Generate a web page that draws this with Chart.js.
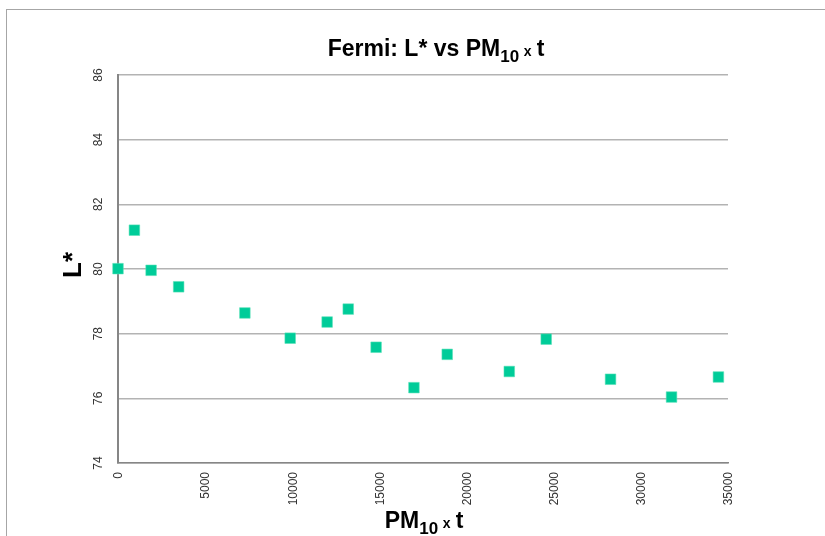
<!DOCTYPE html>
<html>
<head>
<meta charset="utf-8">
<script src="https://cdn.jsdelivr.net/npm/chart.js@4"></script>
<style>
  body { margin: 0; background: #fff; }
  #wrap { width: 825px; height: 536px; }
</style>
</head>
<body>
<div id="wrap"><canvas id="myChart" width="825" height="536"></canvas></div>
<script>
// PM10 x t (x) and L* (y)
const pmTime = [0, 940, 1900, 3480, 7280, 9880, 12000, 13210, 14810, 16980, 18890, 22450, 24570, 28260, 31760, 34450];
const lStar = [80.01, 81.2, 79.96, 79.45, 78.64, 77.86, 78.36, 78.76, 77.58, 76.33, 77.36, 76.83, 77.83, 76.59, 76.04, 76.66];

const xTicks = { min: 0, max: 35000, step: 5000 };
const yTicks = { min: 74, max: 86, step: 2 };

const points = pmTime.map((x, i) => ({ x: x, y: lStar[i] }));

const FONT = '"Liberation Sans", Arial, sans-serif';

// draws text made of pieces with different sizes (for the subscript)
function drawParts(ctx, parts, x, y, rot) {
  ctx.save();
  ctx.translate(x, y);
  ctx.rotate(rot || 0);
  ctx.textBaseline = 'alphabetic';
  ctx.textAlign = 'left';
  let w = 0;
  parts.forEach(p => { ctx.font = p.f; w += ctx.measureText(p.t).width; });
  let cx = -w / 2;
  parts.forEach(p => {
    ctx.font = p.f;
    ctx.fillText(p.t, cx, p.dy || 0);
    cx += ctx.measureText(p.t).width;
  });
  ctx.restore();
}

function pmParts(before) {
  return [
    { t: before + 'PM', f: 'bold 23px ' + FONT },
    { t: '10', f: 'bold 17px ' + FONT, dy: 6 },
    { t: ' ', f: 'bold 17px ' + FONT },
    { t: 'x', f: 'bold 14px ' + FONT },
    { t: ' ', f: 'bold 18px ' + FONT },
    { t: 't', f: 'bold 23px ' + FONT }
  ];
}

const textPlugin = {
  id: 'textPlugin',
  afterDraw(chart) {
    const ctx = chart.ctx;
    const xs = chart.scales.x;
    const ys = chart.scales.y;
    ctx.save();

    // outer frame
    ctx.strokeStyle = '#a6a6a6';
    ctx.lineWidth = 1;
    ctx.strokeRect(6.5, 9.5, 900, 600);

    ctx.fillStyle = '#333';
    ctx.font = '12px ' + FONT;

    // y tick labels, turned
    ys.ticks.forEach(t => {
      const py = ys.getPixelForValue(t.value);
      ctx.save();
      ctx.translate(101.5, py);
      ctx.rotate(-Math.PI / 2);
      ctx.textAlign = 'center';
      ctx.textBaseline = 'alphabetic';
      ctx.fillText(String(t.value), 0, 0);
      ctx.restore();
    });

    // x tick labels, turned
    xs.ticks.forEach(t => {
      const px = xs.getPixelForValue(t.value);
      ctx.save();
      ctx.translate(px + 4.3, 472);
      ctx.rotate(-Math.PI / 2);
      ctx.textAlign = 'right';
      ctx.textBaseline = 'alphabetic';
      ctx.fillText(String(t.value), 0, 0);
      ctx.restore();
    });

    ctx.fillStyle = '#000';
    drawParts(ctx, pmParts('Fermi: L* vs '), 436, 56);
    drawParts(ctx, pmParts(''), 424, 528);
    drawParts(ctx, [{ t: 'L*', f: 'bold 26px ' + FONT }], 80.5, 265, -Math.PI / 2);

    ctx.restore();
  }
};

const ctx = document.getElementById('myChart').getContext('2d');

const chart = new Chart(ctx, {
  type: 'scatter',
  data: {
    datasets: [{
      label: 'L*',
      data: points,
      clip: false,
      pointStyle: 'rect',
      pointRadius: 7.5,
      pointHoverRadius: 7.5,
      pointBackgroundColor: '#00cc99',
      pointBorderColor: 'rgba(90, 225, 185, 0.9)',
      pointBorderWidth: 0.6
    }]
  },
  options: {
    responsive: false,
    animation: false,
    events: [],
    layout: { padding: { left: 0, top: 75, right: 97, bottom: 0 } },
    plugins: {
      legend: { display: false },
      title: { display: false },
      tooltip: { enabled: false }
    },
    scales: {
      x: {
        type: 'linear',
        min: xTicks.min,
        max: xTicks.max,
        ticks: { stepSize: xTicks.step, display: false },
        grid: { display: false, drawTicks: false },
        border: { color: '#868686', width: 1.5 },
        afterFit: (scale) => { scale.height = 73; }
      },
      y: {
        min: yTicks.min,
        max: yTicks.max,
        ticks: { stepSize: yTicks.step, display: false },
        grid: { color: '#b3b3b3', lineWidth: 1.5, drawTicks: false },
        border: { color: '#868686', width: 2 },
        afterFit: (scale) => { scale.width = 118; }
      }
    }
  },
  plugins: [textPlugin]
});
</script>
</body>
</html>
